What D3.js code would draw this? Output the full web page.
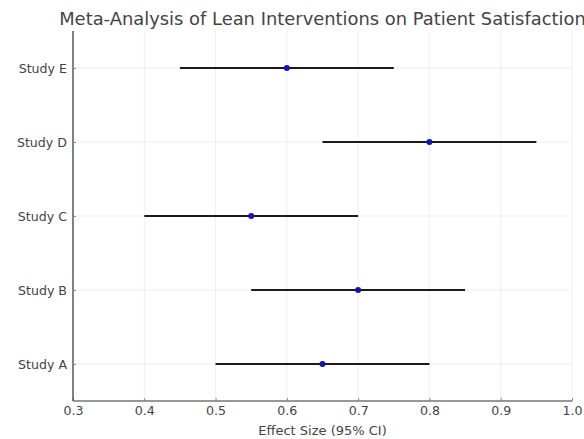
<!DOCTYPE html>
<html>
<head>
<meta charset="utf-8">
<script src="https://cdn.jsdelivr.net/npm/d3@7"></script>
<style>
  body { margin: 0; background: #fff; }
  svg { font-family: "DejaVu Sans", sans-serif; }
</style>
</head>
<body>
<div id="chart"></div>
<script>
// data
let studies = ["Study A", "Study B", "Study C", "Study D", "Study E"];
let effects = [0.65, 0.70, 0.55, 0.80, 0.60];
let lower = [0.50, 0.55, 0.40, 0.65, 0.45];
let upper = [0.80, 0.85, 0.70, 0.95, 0.75];
let xTicks = [0.3, 0.4, 0.5, 0.6, 0.7, 0.8, 0.9, 1.0];

let width = 584, height = 439;
let plotLeft = 73, plotRight = 572, plotTop = 31, plotBottom = 401;

let svg = d3.select("#chart").append("svg")
    .attr("width", width)
    .attr("height", height);

let x = d3.scaleLinear().domain([0.3, 1.0]).range([plotLeft, plotRight]);
// categories sit at 0..4, limits -0.5..4.5
let y = d3.scaleLinear().domain([-0.5, 4.5]).range([plotBottom, plotTop]);

// grid
svg.append("g").selectAll("line")
    .data(xTicks)
    .enter().append("line")
    .attr("x1", d => x(d)).attr("x2", d => x(d))
    .attr("y1", plotTop).attr("y2", plotBottom)
    .attr("stroke", "#ebebeb").attr("stroke-width", 0.8);

svg.append("g").selectAll("line")
    .data(studies)
    .enter().append("line")
    .attr("x1", plotLeft).attr("x2", plotRight)
    .attr("y1", (d, i) => y(i)).attr("y2", (d, i) => y(i))
    .attr("stroke", "#ebebeb").attr("stroke-width", 0.8);

// axes (ticks point inward)
let xAxis = d3.axisBottom(x).tickValues(xTicks).tickSize(-3).tickPadding(5)
    .tickFormat(d3.format(".1f"));
let gx = svg.append("g").attr("transform", "translate(0," + plotBottom + ")").call(xAxis);

let yAxis = d3.axisLeft(y).tickValues(d3.range(studies.length)).tickSize(-3).tickPadding(6)
    .tickFormat(i => studies[i]);
let gy = svg.append("g").attr("transform", "translate(" + plotLeft + ",0)").call(yAxis);

[gx, gy].forEach(function(g){
    g.select(".domain").attr("stroke", "#333").attr("stroke-width", 1.2);
    g.selectAll(".tick line").attr("stroke", "#888");
    g.selectAll(".tick text").attr("fill", "#444").style("font-size", "12.6px")
        .style("font-family", "DejaVu Sans");
});
// spines without end caps
gx.select(".domain").attr("d", "M" + plotLeft + ",0H" + plotRight);
gy.select(".domain").attr("d", "M0," + plotTop + "V" + plotBottom);

// CI lines
svg.append("g").selectAll("line")
    .data(studies)
    .enter().append("line")
    .attr("x1", (d, i) => x(lower[i]))
    .attr("x2", (d, i) => x(upper[i]))
    .attr("y1", (d, i) => y(i)).attr("y2", (d, i) => y(i))
    .attr("stroke", "#1a1a1a").attr("stroke-width", 2);

// points
svg.append("g").selectAll("circle")
    .data(effects)
    .enter().append("circle")
    .attr("cx", d => x(d))
    .attr("cy", (d, i) => y(i))
    .attr("r", 3)
    .attr("fill", "#1414b4");

// x label
svg.append("text")
    .attr("x", (plotLeft + plotRight) / 2)
    .attr("y", 435)
    .attr("text-anchor", "middle")
    .attr("fill", "#444")
    .style("font-size", "13px")
    .text("Effect Size (95% CI)");

// title
svg.append("text")
    .attr("x", (plotLeft + plotRight) / 2)
    .attr("y", 25)
    .attr("text-anchor", "middle")
    .attr("fill", "#444")
    .style("font-size", "17.9px")
    .text("Meta-Analysis of Lean Interventions on Patient Satisfaction");
</script>
</body>
</html>
